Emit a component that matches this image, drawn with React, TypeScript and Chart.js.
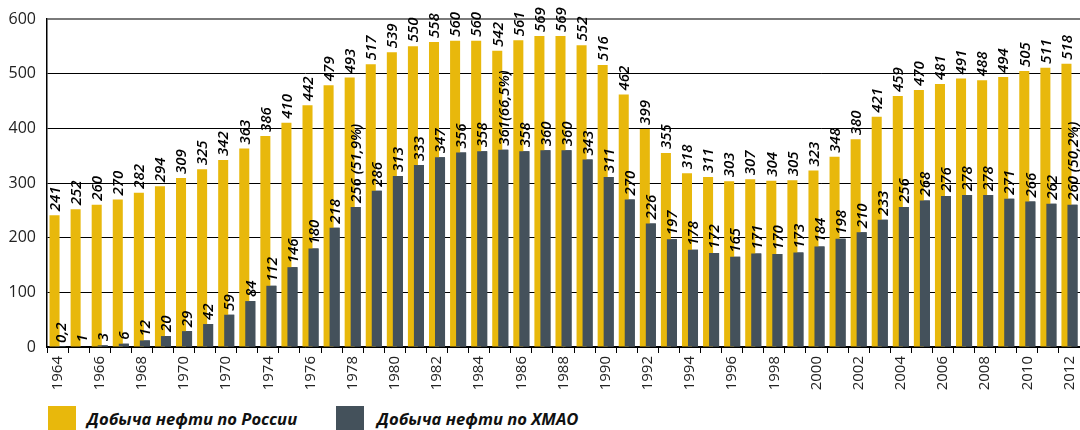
import React, { useEffect, useRef } from "react";
import { Chart, registerables } from "chart.js";

Chart.register(...registerables);

const years = [
  "1964", "1965", "1966", "1967", "1968", "1969", "1970", "1971", "1972", "1973",
  "1974", "1975", "1976", "1977", "1978", "1979", "1980", "1981", "1982", "1983",
  "1984", "1985", "1986", "1987", "1988", "1989", "1990", "1991", "1992", "1993",
  "1994", "1995", "1996", "1997", "1998", "1999", "2000", "2001", "2002", "2003",
  "2004", "2005", "2006", "2007", "2008", "2009", "2010", "2011", "2012",
];

const tickLabels = [
  "1964", "", "1966", "", "1968", "", "1970", "", "1970", "",
  "1974", "", "1976", "", "1978", "", "1980", "", "1982", "",
  "1984", "", "1986", "", "1988", "", "1990", "", "1992", "",
  "1994", "", "1996", "", "1998", "", "2000", "", "2002", "",
  "2004", "", "2006", "", "2008", "", "2010", "", "2012",
];

const russia = [
  241, 252, 260, 270, 282, 294, 309, 325, 342, 363,
  386, 410, 442, 479, 493, 517, 539, 550, 558, 560,
  560, 542, 561, 569, 569, 552, 516, 462, 399, 355,
  318, 311, 303, 307, 304, 305, 323, 348, 380, 421,
  459, 470, 481, 491, 488, 494, 505, 511, 518,
];

const khmao = [
  0.2, 1, 3, 6, 12, 20, 29, 42, 59, 84,
  112, 146, 180, 218, 256, 286, 313, 333, 347, 356,
  358, 361, 358, 360, 360, 343, 311, 270, 226, 197,
  178, 172, 165, 171, 170, 173, 184, 198, 210, 233,
  256, 268, 276, 278, 278, 271, 266, 262, 260,
];

const khmaoShare: Record<string, string> = {
  "1978": " (51,9%)",
  "1985": "(66,5%)",
  "2012": " (50,2%)",
};

const yTicks = [0, 100, 200, 300, 400, 500, 600];

const seriesNames = ["Добыча нефти по России", "Добыча нефти по ХМАО"];
const seriesColors = ["#E8B80C", "#44515B"];

const FONT = "'Open Sans', 'Noto Sans', sans-serif";

const overlayPlugin = {
  id: "overlayPlugin",
  afterDatasetsDraw(chart: any) {
    const ctx = chart.ctx;
    // draw the dark series on top of the yellow one
    const darkMeta = chart.getDatasetMeta(1);
    darkMeta.controller.draw();

    ctx.save();
    ctx.font = `italic 600 15px ${FONT}`;
    ctx.fillStyle = "#000";
    ctx.textAlign = "left";
    ctx.textBaseline = "middle";
    [0, 1].forEach((di) => {
      const meta = chart.getDatasetMeta(di);
      const data = chart.data.datasets[di].data as number[];
      meta.data.forEach((el: any, i: number) => {
        let text = String(data[i]).replace(".", ",");
        if (di === 1 && khmaoShare[years[i]]) text += khmaoShare[years[i]];
        ctx.save();
        ctx.translate(el.x + 1, el.y - 4);
        ctx.rotate(-Math.PI / 2);
        ctx.fillText(text, 0, 0);
        ctx.restore();
      });
    });
    ctx.restore();
  },
};

export default function App() {
  const canvasRef = useRef<HTMLCanvasElement | null>(null);

  useEffect(() => {
    if (!canvasRef.current) return;
    const chart = new Chart(canvasRef.current, {
      type: "bar",
      data: {
        labels: years,
        datasets: [
          {
            label: seriesNames[0],
            data: russia,
            backgroundColor: seriesColors[0],
            borderWidth: 0,
            categoryPercentage: 0.57,
            barPercentage: 1.67,
          },
          {
            label: seriesNames[1],
            data: khmao,
            backgroundColor: seriesColors[1],
            borderWidth: 0,
            categoryPercentage: 0.57,
            barPercentage: 1.67,
          },
        ],
      },
      options: {
        responsive: false,
        animation: false,
        layout: { padding: { top: 19, left: 0, right: 0, bottom: 0 } },
        plugins: {
          legend: { display: false },
          tooltip: { enabled: false },
        },
        scales: {
          x: {
            grid: {
              offset: true,
              drawOnChartArea: false,
              drawTicks: true,
              tickLength: 6,
              color: "#000",
              lineWidth: 1,
            },
            border: { display: true, color: "#000", width: 1.5 },
            ticks: {
              autoSkip: false,
              maxRotation: 90,
              minRotation: 90,
              padding: 3,
              color: "#222",
              font: { family: FONT, size: 15 },
              callback: (_v: any, i: number) => tickLabels[i],
            },
            afterFit: (s: any) => {
              s.height = 53;
              s.paddingLeft = 0;
              s.paddingRight = 0;
            },
          },
          y: {
            min: 0,
            max: 600,
            afterBuildTicks: (s: any) => {
              s.ticks = yTicks.map((v) => ({ value: v }));
            },
            grid: {
              drawTicks: false,
              color: (c: any) => (c.tick && c.tick.value === 600 ? "#7a7a7a" : "#000"),
              lineWidth: (c: any) => (c.tick && c.tick.value === 600 ? 2 : 1),
            },
            border: { display: true, color: "#000", width: 1.5 },
            ticks: {
              padding: 11,
              color: "#222",
              font: { family: FONT, size: 16 },
            },
            afterFit: (s: any) => {
              s.width = 47;
              s.paddingTop = 0;
              s.paddingBottom = 0;
            },
          },
        },
      },
      plugins: [overlayPlugin],
    });
    return () => chart.destroy();
  }, []);

  const legendText: React.CSSProperties = {
    position: "absolute",
    top: 406,
    height: 26,
    lineHeight: "26px",
    fontFamily: FONT,
    fontWeight: 700,
    fontStyle: "italic",
    fontSize: 16.6,
    color: "#111",
    whiteSpace: "nowrap",
  };

  return (
    <div
      style={{
        position: "absolute",
        left: 0,
        top: 0,
        width: 1080,
        height: 430,
        overflow: "hidden",
        background: "#fff",
      }}
    >
      <canvas
        ref={canvasRef}
        width={1080}
        height={400}
        style={{ position: "absolute", left: 0, top: 0, width: 1080, height: 400 }}
      />
      <div style={{ position: "absolute", left: 48, top: 406, width: 28, height: 28, background: seriesColors[0] }} />
      <div style={{ ...legendText, left: 87 }}>{seriesNames[0]}</div>
      <div style={{ position: "absolute", left: 336, top: 406, width: 28, height: 28, background: seriesColors[1] }} />
      <div style={{ ...legendText, left: 377 }}>{seriesNames[1]}</div>
    </div>
  );
}
